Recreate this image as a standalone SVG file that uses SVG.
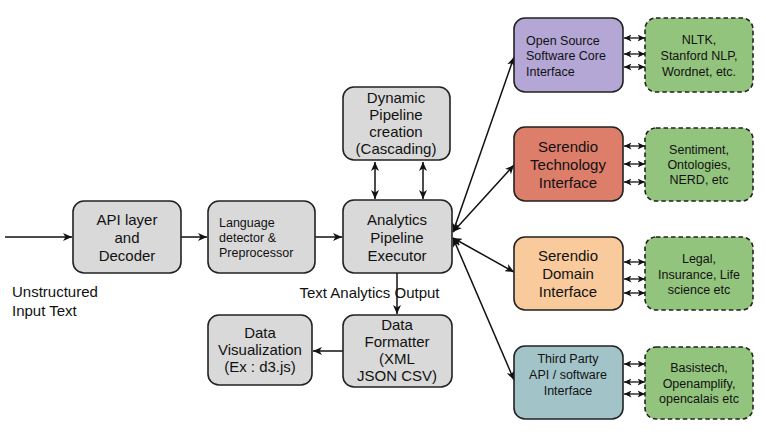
<svg xmlns="http://www.w3.org/2000/svg" width="766" height="438" viewBox="0 0 766 438">
<defs>
<style>
.box{stroke:#222;stroke-width:1.6}
.grey{fill:#d9d9d9}
.green{fill:#93c47d;stroke-dasharray:4.5 3}
.t{font-family:"Liberation Sans",Arial,sans-serif;fill:#111}
.b{font-size:15px;text-anchor:middle}
.s{font-size:12.5px}
.sm{font-size:12.5px;text-anchor:middle}
.ln{stroke:#111;stroke-width:1.5;fill:none}
.thin{stroke:#111;stroke-width:1.3;fill:none}
</style>
<marker id="ah" markerUnits="userSpaceOnUse" markerWidth="10" markerHeight="8" refX="9" refY="4" orient="auto-start-reverse">
<path d="M0,0 L9,4 L0,8 L2.5,4 Z" fill="#111"/>
</marker>
<marker id="ahs" markerUnits="userSpaceOnUse" markerWidth="8" markerHeight="7" refX="7.5" refY="3.5" orient="auto-start-reverse">
<path d="M0,0 L7.5,3.5 L0,7 L2,3.5 Z" fill="#111"/>
</marker>
</defs>
<rect width="766" height="438" fill="#fff"/>

<g id="connectors">
<line class="ln" x1="5" y1="237" x2="72" y2="237" marker-end="url(#ah)"/>
<line class="ln" x1="181" y1="237" x2="207" y2="237" marker-end="url(#ah)"/>
<line class="ln" x1="315" y1="237" x2="342" y2="237" marker-end="url(#ah)"/>
<line class="ln" x1="375" y1="162" x2="375" y2="199" marker-start="url(#ah)" marker-end="url(#ah)"/>
<line class="ln" x1="423" y1="162" x2="423" y2="199" marker-start="url(#ah)" marker-end="url(#ah)"/>
<line class="ln" x1="397" y1="273" x2="397" y2="314" marker-end="url(#ah)"/>
<line class="ln" x1="343" y1="351" x2="313" y2="351" marker-end="url(#ah)"/>
<line class="ln" x1="453" y1="232" x2="514" y2="57" marker-start="url(#ah)" marker-end="url(#ah)"/>
<line class="ln" x1="453" y1="232" x2="514" y2="165" marker-start="url(#ah)" marker-end="url(#ah)"/>
<line class="ln" x1="453" y1="238" x2="514" y2="272" marker-start="url(#ah)" marker-end="url(#ah)"/>
<line class="ln" x1="453" y1="238" x2="514" y2="380" marker-start="url(#ah)" marker-end="url(#ah)"/>
<line class="thin" x1="624" y1="38" x2="645" y2="38" marker-start="url(#ahs)" marker-end="url(#ahs)"/>
<line class="thin" x1="624" y1="54" x2="645" y2="54" marker-start="url(#ahs)" marker-end="url(#ahs)"/>
<line class="thin" x1="624" y1="67" x2="645" y2="67" marker-start="url(#ahs)" marker-end="url(#ahs)"/>
<line class="thin" x1="624" y1="146" x2="645" y2="146" marker-start="url(#ahs)" marker-end="url(#ahs)"/>
<line class="thin" x1="624" y1="164" x2="645" y2="164" marker-start="url(#ahs)" marker-end="url(#ahs)"/>
<line class="thin" x1="624" y1="182" x2="645" y2="182" marker-start="url(#ahs)" marker-end="url(#ahs)"/>
<line class="thin" x1="624" y1="262" x2="645" y2="262" marker-start="url(#ahs)" marker-end="url(#ahs)"/>
<line class="thin" x1="624" y1="279" x2="645" y2="279" marker-start="url(#ahs)" marker-end="url(#ahs)"/>
<line class="thin" x1="624" y1="293" x2="645" y2="293" marker-start="url(#ahs)" marker-end="url(#ahs)"/>
<line class="thin" x1="624" y1="364" x2="645" y2="364" marker-start="url(#ahs)" marker-end="url(#ahs)"/>
<line class="thin" x1="624" y1="382" x2="645" y2="382" marker-start="url(#ahs)" marker-end="url(#ahs)"/>
<line class="thin" x1="624" y1="394" x2="645" y2="394" marker-start="url(#ahs)" marker-end="url(#ahs)"/>
</g>

<g id="label-input">
<text class="t" x="12" y="297" font-size="15">Unstructured</text>
<text class="t" x="12" y="316" font-size="15">Input Text</text>
</g>
<g id="label-output">
<text class="t" x="369.5" y="298" font-size="15" text-anchor="middle">Text Analytics Output</text>
</g>

<g id="api">
<rect class="box grey" x="73" y="201" width="108" height="72" rx="11"/>
<text class="t b" x="127" y="225">API layer</text>
<text class="t b" x="127" y="243">and</text>
<text class="t b" x="127" y="261">Decoder</text>
</g>

<g id="language">
<rect class="box grey" x="208" y="201" width="107" height="72" rx="11"/>
<text class="t s" x="219" y="227">Language</text>
<text class="t s" x="219" y="242">detector &amp;</text>
<text class="t s" x="219" y="257">Preprocessor</text>
</g>

<g id="analytics">
<rect class="box grey" x="343" y="200" width="109" height="73" rx="11"/>
<text class="t b" x="397" y="225">Analytics</text>
<text class="t b" x="397" y="243">Pipeline</text>
<text class="t b" x="397" y="261">Executor</text>
</g>

<g id="dynamic">
<rect class="box grey" x="343" y="87" width="107" height="73" rx="11"/>
<text class="t b" x="396" y="103">Dynamic</text>
<text class="t b" x="396" y="120">Pipeline</text>
<text class="t b" x="396" y="137">creation</text>
<text class="t b" x="396" y="154">(Cascading)</text>
</g>

<g id="formatter">
<rect class="box grey" x="343" y="315" width="109" height="72" rx="11"/>
<text class="t b" x="397" y="330">Data</text>
<text class="t b" x="397" y="347">Formatter</text>
<text class="t b" x="397" y="364">(XML</text>
<text class="t b" x="397" y="381">JSON CSV)</text>
</g>

<g id="visualization">
<rect class="box grey" x="208" y="315" width="104" height="70" rx="11"/>
<text class="t b" x="260" y="338">Data</text>
<text class="t b" x="260" y="355">Visualization</text>
<text class="t b" x="260" y="372">(Ex : d3.js)</text>
</g>

<g id="opensource">
<rect class="box" fill="#b4a7d6" x="514" y="18" width="109" height="74" rx="11"/>
<text class="t s" x="526" y="45">Open Source</text>
<text class="t s" x="526" y="60">Software Core</text>
<text class="t s" x="526" y="76">Interface</text>
</g>

<g id="technology">
<rect class="box" fill="#dd7e6b" x="514" y="127" width="109" height="74" rx="11"/>
<text class="t b" x="568" y="152">Serendio</text>
<text class="t b" x="568" y="170">Technology</text>
<text class="t b" x="568" y="188">Interface</text>
</g>

<g id="domain">
<rect class="box" fill="#f9cb9c" x="514" y="237" width="109" height="73" rx="11"/>
<text class="t b" x="568" y="261">Serendio</text>
<text class="t b" x="568" y="279">Domain</text>
<text class="t b" x="568" y="297">Interface</text>
</g>

<g id="thirdparty">
<rect class="box" fill="#a2c4c9" x="514" y="346" width="109" height="73" rx="11"/>
<text class="t sm" x="568" y="363">Third Party</text>
<text class="t sm" x="568" y="379">API / software</text>
<text class="t sm" x="568" y="395">Interface</text>
</g>

<g id="nltk">
<rect class="box green" x="645" y="18" width="108" height="74" rx="11"/>
<text class="t sm" x="699" y="44">NLTK,</text>
<text class="t sm" x="699" y="60">Stanford NLP,</text>
<text class="t sm" x="699" y="76">Wordnet, etc.</text>
</g>

<g id="sentiment">
<rect class="box green" x="645" y="128" width="108" height="73" rx="11"/>
<text class="t sm" x="699" y="154">Sentiment,</text>
<text class="t sm" x="699" y="169">Ontologies,</text>
<text class="t sm" x="699" y="184">NERD, etc</text>
</g>

<g id="legal">
<rect class="box green" x="645" y="237" width="108" height="73" rx="11"/>
<text class="t sm" x="699" y="263">Legal,</text>
<text class="t sm" x="699" y="279">Insurance, Life</text>
<text class="t sm" x="699" y="294">science etc</text>
</g>

<g id="basistech">
<rect class="box green" x="645" y="347" width="108" height="72" rx="11"/>
<text class="t sm" x="699" y="372" font-size="13">Basistech,</text>
<text class="t sm" x="699" y="388" font-size="13">Openamplify,</text>
<text class="t sm" x="699" y="403" font-size="13">opencalais etc</text>
</g>
</svg>
